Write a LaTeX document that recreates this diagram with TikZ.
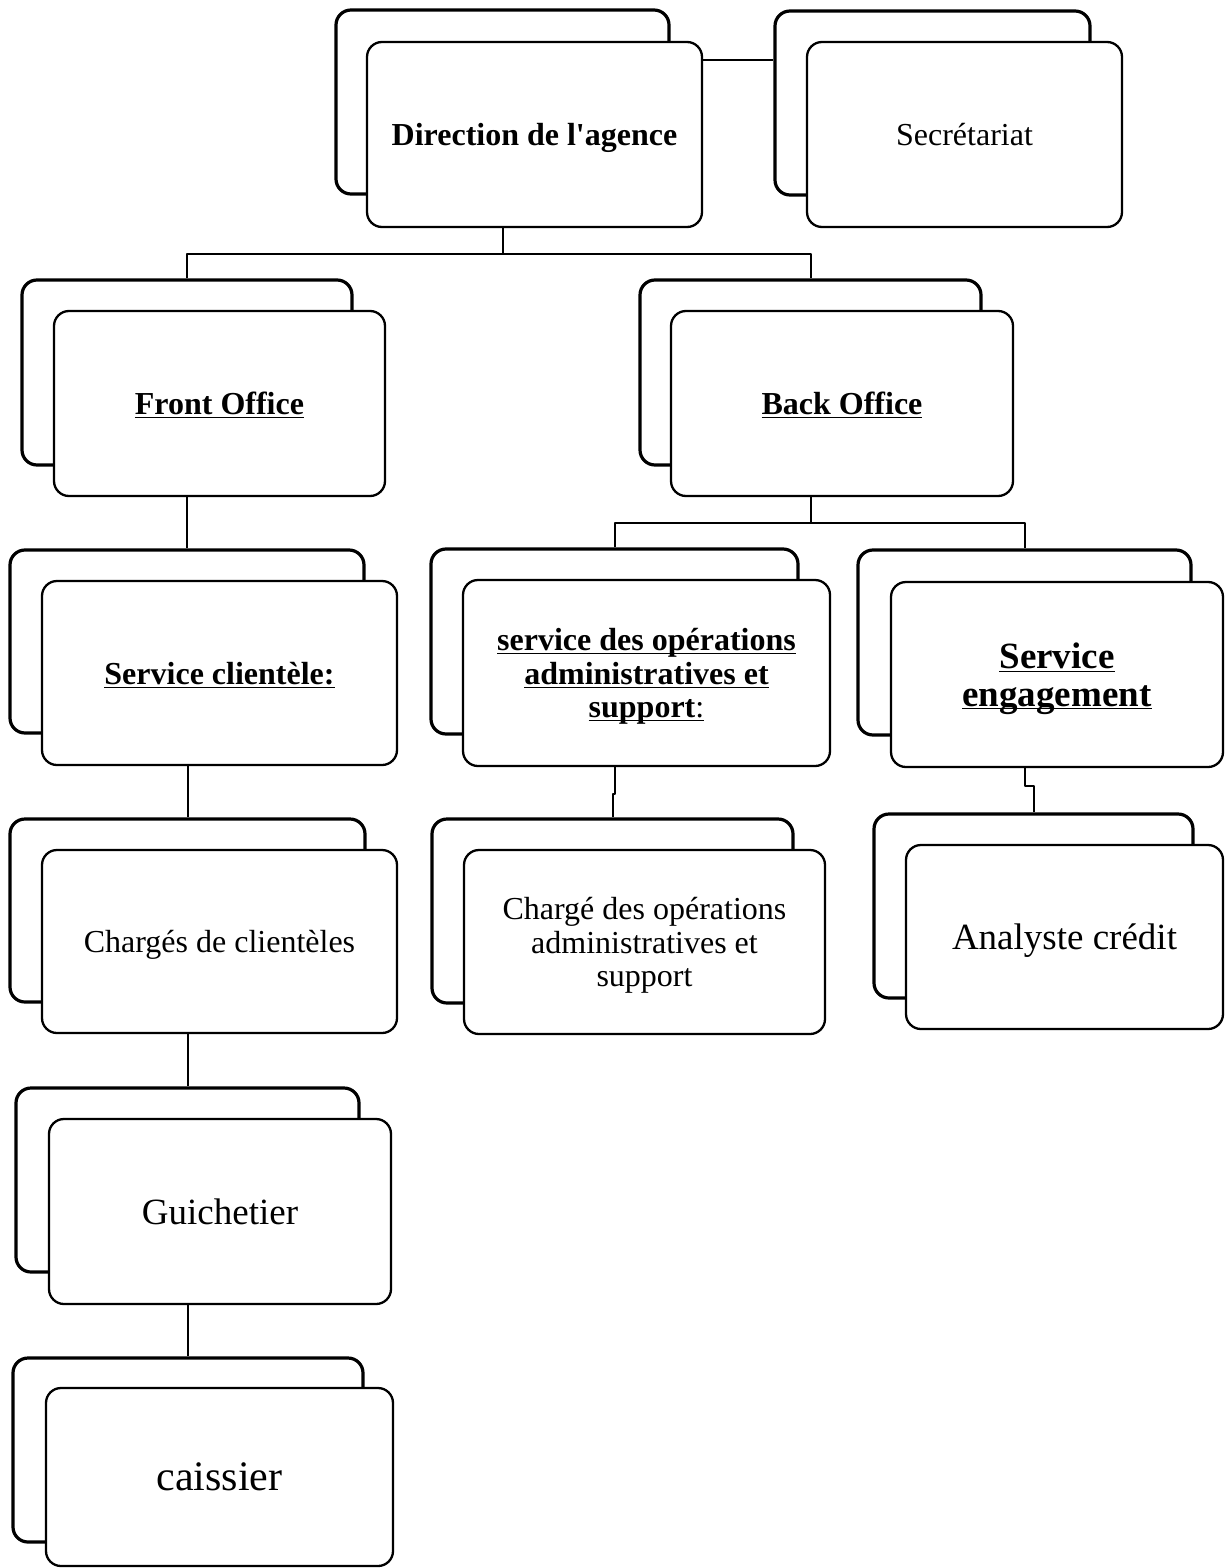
\documentclass[tikz,border=0pt]{standalone}
\usepackage{fontspec}
\setmainfont{Liberation Serif}
\tikzset{
  rearbox/.style={draw, line width=1.6pt, rounded corners=7.5pt, fill=white, inner sep=0pt},
  facebox/.style={draw, line width=1.15pt, rounded corners=7.5pt, fill=white, inner sep=0pt,
    align=center, text depth=0pt, font=\fontsize{16}{16.8}\selectfont},
  wire/.style={line width=1pt},
}
\newcommand{\ulbold}[1]{\underline{\raisebox{0pt}[\height][0pt]{\textbf{#1}}}}

\begin{document}
\begin{tikzpicture}[x=0.5pt, y=-0.5pt, line join=round]
  \useasboundingbox (0,0) rectangle (1227,1568);
  % cards behind
  \foreach \n/\x/\y/\w/\h in {dirb/502.5/102/333/184, secb/932.5/103/315/184,
      frob/187/372.5/330/185, bacb/810.5/372.5/341/185,
      clib/187/641.5/354/183, chcb/187.5/910.5/355/183,
      guib/187.5/1180/343/184, caib/188/1450/350/184,
      opsb/614.5/641.5/367/185, engb/1024.5/642.5/333/185,
      cpob/612.5/911/361/184, anab/1033.5/906/319/184}{
    \node[rearbox, minimum width=\w*0.5pt, minimum height=\h*0.5pt] (\n) at (\x,\y) {};}
  % cards in front
  \node[facebox, minimum width=167.5pt, minimum height=92.5pt] (dirf) at (534.5,134.5)
    {\textbf{Direction de l\textquotesingle agence}};
  \node[facebox, minimum width=157.5pt, minimum height=92.5pt] (secf) at (964.5,134.5) {Secrétariat};
  \node[facebox, minimum width=165.5pt, minimum height=92.5pt] (frof) at (219.5,403.5) {\ulbold{Front Office}};
  \node[facebox, minimum width=171pt, minimum height=92.5pt] (bacf) at (842,403.5) {\ulbold{Back Office}};
  \node[facebox, minimum width=177.5pt, minimum height=92pt] (clif) at (219.5,673) {\ulbold{Service clientèle:}};
  \node[facebox, minimum width=177.5pt, minimum height=91.5pt] (chcf) at (219.5,941.5) {Chargés de clientèles};
  \node[facebox, minimum width=171pt, minimum height=92.5pt, font=\fontsize{18.5}{19}\selectfont]
    (guif) at (220,1211.5) {Guichetier};
  \node[facebox, minimum width=173.5pt, minimum height=89pt, font=\fontsize{21}{22}\selectfont]
    (caif) at (219.5,1477) {caissier};
  \node[facebox, minimum width=183.5pt, minimum height=93pt] (opsf) at (646.5,673)
    {\ulbold{service des opérations}\\ \ulbold{administratives et}\\
     \underline{\raisebox{0pt}[\height][0pt]{\textbf{support}:}}};
  \node[facebox, minimum width=166pt, minimum height=92.5pt, font=\fontsize{18.5}{18.7}\selectfont]
    (engf) at (1057,674.5) {\ulbold{Service}\\ \ulbold{engagement}};
  \node[facebox, minimum width=180.5pt, minimum height=92pt] (cpof) at (644.5,942)
    {Chargé des opérations\\ administratives et\\ support};
  \node[facebox, minimum width=158.5pt, minimum height=92pt, font=\fontsize{18.5}{19}\selectfont]
    (anaf) at (1064.5,937) {Analyste crédit};
  % links
  \coordinate (dirsec) at (740,60);
  \draw[wire] (dirf.east |- dirsec) -- (secb.west |- dirsec);
  \path (dirb |- dirf.south) ++(0,26) coordinate (dirfork);
  \draw[wire] (dirb |- dirf.south) -- (dirfork) (frob.north) |- (dirfork) -| (bacb.north);
  \path (bacb |- bacf.south) ++(0,26) coordinate (bacfork);
  \draw[wire] (bacb |- bacf.south) -- (bacfork) (opsb.north) |- (bacfork) -| (engb.north);
  \draw[wire] (clib.north |- frof.south) -- (clib.north);
  \draw[wire] (chcb.north |- clif.south) -- (chcb.north);
  \draw[wire] (guib.north |- chcf.south) -- (guib.north);
  \draw[wire] (caib.north |- guif.south) -- (caib.north);
  \draw[wire] (opsb |- opsf.south) -- ++(0,27) -| (cpob.north);
  \draw[wire] (engb |- engf.south) -- ++(0,18) -| (anab.north);
\end{tikzpicture}
\end{document}
